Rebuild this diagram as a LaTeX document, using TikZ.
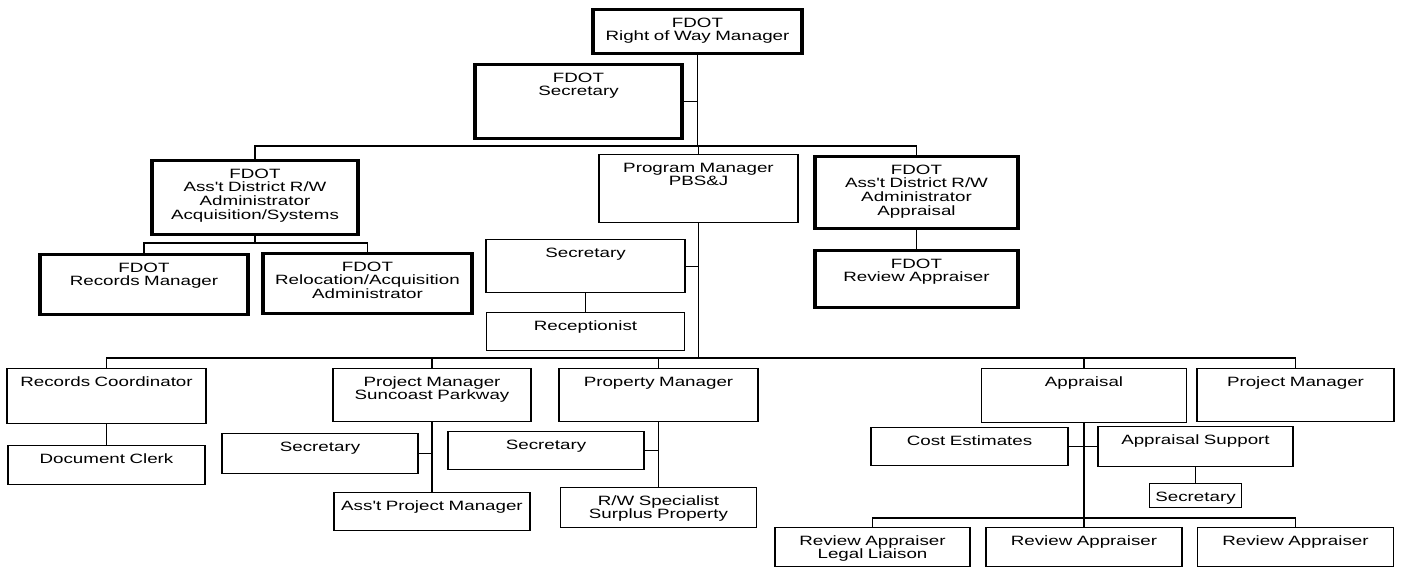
\documentclass[tikz,border=0pt]{standalone}
\usepackage{fontspec}
\usepackage{tikz}
\newfontfamily\chartfont{Liberation Sans}[FakeStretch=1.39]

\begin{document}
\begin{tikzpicture}[
    x=1pt, y=-1pt,
    box/.style={rectangle, draw, anchor=north, align=center, inner xsep=2pt, inner ysep=4pt,
        text height=13.5pt, line width=1.3pt, font=\chartfont\fontsize{13.5}{13.7}\selectfont},
    fdot/.style={box, line width=3.4pt},
    link/.style={line width=1.2pt}
]

% Background
\fill[white] (0,0) rectangle (1401,569);

% FDOT level
\node[fdot, text width=205pt, text depth=22.5pt] (rwm) at (697.5,8) {FDOT\\ Right of Way Manager};
\node[fdot, text width=203pt, text depth=52.5pt] (fsec) at (578.5,63) {FDOT\\ Secretary};
\node[fdot, text width=202pt, text depth=52.5pt] (acq) at (255,159) {FDOT\\ Ass't District R/W\\ Administrator\\ Acquisition/Systems};
\node[box, text width=195pt, text depth=46.5pt] (pm) at (698.5,154) {Program Manager\\ PBS\&J};
\node[fdot, text width=199pt, text depth=50.5pt] (appr) at (916.5,155) {FDOT\\ Ass't District R/W\\ Administrator\\ Appraisal};
\node[fdot, text width=199pt, text depth=35.5pt] (revapp) at (916.5,249) {FDOT\\ Review Appraiser};
\node[fdot, text width=204pt, text depth=38.5pt] (recmgr) at (144,253) {FDOT\\ Records Manager};
\node[fdot, text width=205pt, text depth=38.5pt] (reloc) at (367.5,252) {FDOT\\ Relocation/Acquisition\\ Administrator};

% Program manager staff
\node[box, text width=195pt, text depth=31.5pt] (sec1) at (585.5,239) {Secretary};
\node[box, text width=194pt, text depth=16.5pt] (recep) at (585.5,312) {Receptionist};

% PBS&J level
\node[box, text width=195pt, text depth=33.5pt] (recco) at (106.5,368) {Records Coordinator};
\node[box, text width=193pt, text depth=17.5pt] (docclerk) at (106.5,445) {Document Clerk};
\node[box, text width=194pt, text depth=31.5pt] (pms) at (432,368) {Project Manager\\ Suncoast Parkway};
\node[box, text width=192pt, text depth=18.5pt] (secL) at (320,433) {Secretary};
\node[box, text width=192pt, text depth=16.5pt] (apm) at (432,492) {Ass't Project Manager};
\node[box, text width=195pt, text depth=31.5pt] (propmgr) at (658.5,368) {Property Manager};
\node[box, text width=192pt, text depth=16.5pt] (secR) at (546,431) {Secretary};
\node[box, text width=192pt, text depth=18.5pt] (rwspec) at (658.5,487) {R/W Specialist\\ Surplus Property};
\node[box, text width=201pt, text depth=32.5pt] (appraisal) at (1084,368) {Appraisal};
\node[box, text width=193pt, text depth=31.5pt] (pmr) at (1295.5,368) {Project Manager};
\node[box, text width=193pt, text depth=16.5pt] (costest) at (969.5,427) {Cost Estimates};
\node[box, text width=191pt, text depth=18.5pt] (appsup) at (1195.5,426) {Appraisal Support};
\node[box, text width=88pt, text depth=2.5pt] (sec3) at (1195.5,483) {Secretary};
\node[box, text width=191pt, text depth=17.5pt] (legal) at (872.5,527) {Review Appraiser\\ Legal Liaison};
\node[box, text width=192pt, text depth=17.5pt] (rev2) at (1084,527) {Review Appraiser};
\node[box, text width=192pt, text depth=17.5pt] (rev3) at (1295.5,527) {Review Appraiser};

% Bus lines
\coordinate (bus1) at (698,146);
\coordinate (bus2) at (255,243);
\coordinate (bus3) at (698,358);
\coordinate (bus4) at (1084,518);

% Connections, FDOT side
\draw[link] (rwm.south) -- (rwm.south |- bus1);
\draw[link] (fsec.east) -- (fsec.east -| rwm.south);
\draw[link] (acq.north) |- (bus1) -| (appr.north);
\draw[link] (pm.north) -- (pm.north |- bus1);
\draw[link] (acq.south) -- (bus2);
\draw[link] (recmgr.north) |- (bus2) -| (reloc.north);
\draw[link] (appr.south) -- (revapp.north);

% Connections, program manager
\draw[link] (pm.south) -- (pm.south |- bus3);
\draw[link] (sec1.east) -- (sec1.east -| pm.south);
\draw[link] (sec1.south) -- (recep.north);
\draw[link] (recco.north) |- (bus3) -| (pmr.north);
\draw[link] (pms.north) -- (pms.north |- bus3);
\draw[link] (propmgr.north) -- (propmgr.north |- bus3);
\draw[link] (appraisal.north) -- (appraisal.north |- bus3);

% Connections, lower staff
\draw[link] (recco.south) -- (docclerk.north);
\draw[link] (pms.south) -- (apm.north);
\draw[link] (secL.east) -- (secL.east -| pms.south);
\draw[link] (propmgr.south) -- (rwspec.north);
\draw[link] (secR.east) -- (secR.east -| propmgr.south);
\draw[link] (appraisal.south) -- (rev2.north);
\draw[link] (costest.east) -- (appsup.west);
\draw[link] (appsup.south) -- (sec3.north);
\draw[link] (legal.north) |- (bus4) -| (rev3.north);

\end{tikzpicture}
\end{document}
